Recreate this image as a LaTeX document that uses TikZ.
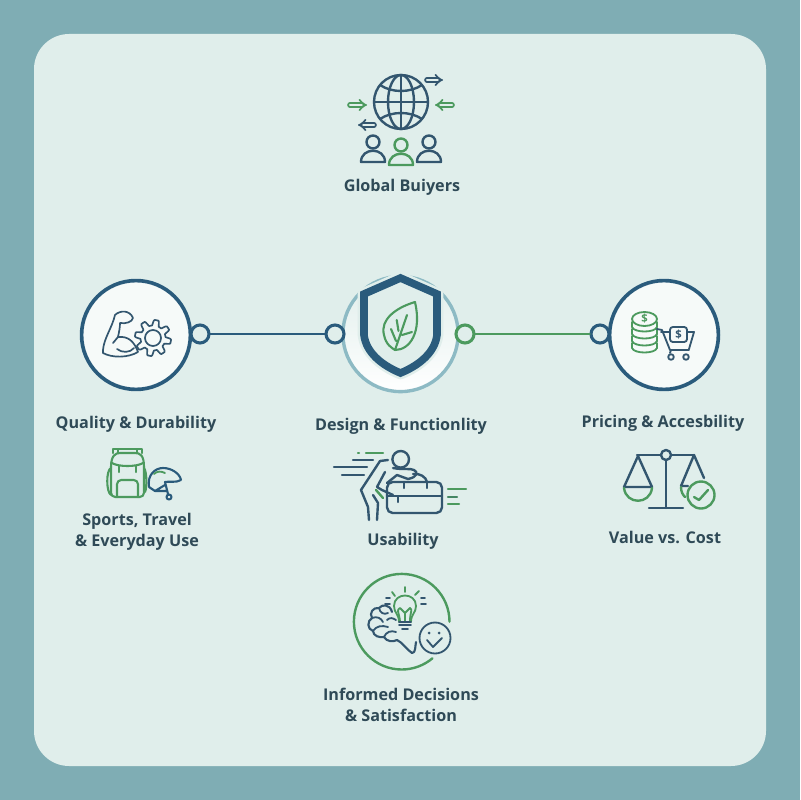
\documentclass[tikz,border=0pt]{standalone}
\usepackage{fontspec}
\setmainfont{Open Sans}
\usetikzlibrary{arrows.meta}
\definecolor{frame}{HTML}{7FADB4}
\definecolor{panel}{HTML}{E0EEEB}
\definecolor{dk}{HTML}{2A5B7C}
\definecolor{nv}{HTML}{33566F}
\definecolor{gn}{HTML}{4C9A5E}
\definecolor{lb}{HTML}{8DBAC4}
\definecolor{tx}{HTML}{2F4A57}
\begin{document}
\begin{tikzpicture}[x=0.025cm,y=-0.025cm,line cap=round,line join=round]
\tikzstyle{dl}=[draw=nv,line width=1.7pt]
\tikzstyle{gl}=[draw=gn,line width=1.7pt]
\tikzstyle{da}=[nv,line width=1.25pt,double=panel,double distance=1.5pt,-{Implies}]
\tikzstyle{ga}=[gn,line width=1.25pt,double=panel,double distance=1.5pt,-{Implies}]
\tikzstyle{bub}=[circle,draw=dk,fill=white!70!panel,line width=2.6pt,minimum size=2.72cm,inner sep=0pt]
\tikzstyle{rng}=[circle,fill=panel,line width=2.2pt,minimum size=0.45cm,inner sep=0pt]
\tikzstyle{lbl}=[text=tx,font=\bfseries\fontsize{11.5}{14.7}\selectfont,align=center,inner sep=0pt]
\tikzstyle{dol}=[inner sep=0pt,font=\bfseries\fontsize{8}{8}\selectfont]
% background
\fill[frame] (0,0) rectangle (800,800);
\useasboundingbox (0,0) rectangle (800,800);
\fill[panel,rounded corners=25pt] (34,34) rectangle (766,766);
% buyers
\draw[dl] (401,102) circle[radius=27];
\draw[dl] (401,102) ellipse[x radius=13,y radius=27];
\draw[dl] (401,75) -- (401,129) (374,102) -- (428,102);
\draw[dl] (380,85) .. controls (392,93) and (410,93) .. (422,85);
\draw[dl] (380,119) .. controls (392,111) and (410,111) .. (422,119);
\draw[da] (427,80) -- (443,80);
\draw[ga] (350,105) -- (367,105);
\draw[ga] (452,105) -- (435,105);
\draw[da] (374,125) -- (358,125);
\foreach \px/\py/\st in {373/142/dl,429/142/dl,401/145/gl} {
  \draw[\st] (\px,\py) circle[radius=6.5];
  \draw[\st] (\px-12,\py+20) .. controls (\px-12,\py+5) and (\px+12,\py+5) .. (\px+12,\py+20) -- cycle;
}
\node[lbl] (buyers) at (402,187) {Global Buiyers};
% big circles
\node[bub] (quality) at (136,335) {};
\node[bub] (pricing) at (664,335) {};
\node[circle,draw=lb,top color=panel,bottom color=white,line width=2.4pt,minimum size=2.88cm,inner sep=0pt] (design) at (400.5,334) {};
% shield
\draw[panel,line width=9pt] (400.5,278) -- (437,294) -- (437,335) .. controls (435,352) and (420,365) .. (400.5,373) .. controls (381,365) and (366,352) .. (364,335) -- (364,294) -- cycle;
\draw[dk,fill=panel,line width=5.4pt,line join=miter] (400.5,278) -- (437,294) -- (437,335) .. controls (435,352) and (420,365) .. (400.5,373) .. controls (381,365) and (366,352) .. (364,335) -- (364,294) -- cycle;
\draw[gl,line width=1.5pt] (415,302) .. controls (395,308) and (380,320) .. (384,335) .. controls (386,345) and (392,348) .. (395,350) .. controls (410,350) and (422,332) .. (415,302) -- cycle;
\draw[gl,line width=1.5pt] (395,350) -- (407,315) (398.5,331) -- (396.7,320) (402,335) -- (412,332) (396,341) -- (391,329);
% rings and wires
\node[rng,draw=dk] (ringa) at (200,334) {};
\node[rng,draw=dk] (ringb) at (335,334) {};
\node[rng,draw=gn] (ringc) at (465,334) {};
\node[rng,draw=dk] (ringd) at (600,334) {};
\draw[dk,line width=2pt] (ringa) -- (ringb);
\draw[gn,line width=2pt] (ringc) -- (ringd);
% muscle and gear
\draw[dl,line width=1.2pt] (103,350) .. controls (104,338) and (112,328) .. (115,315) .. controls (120,310) and (130,310) .. (133,318) .. controls (132,322) and (126,324) .. (120,323) .. controls (120,328) and (119,332) .. (118,337) .. controls (128,336) and (134,341) .. (138,352) .. controls (128,358) and (112,358) .. (103,353) -- cycle;
\draw[dl,line width=1.2pt] (117,349) .. controls (122,353) and (130,353) .. (134,348);
\draw[dl,line width=1.2pt] (113,343) -- (118,337);
\draw[dl,line width=1.2pt,fill=white!70!panel] plot[domain=0:360,samples=145] ({153+(15.3+2.8*max(-1,min(1,2*sin(8*\x))))*cos(\x)},{338+(15.3+2.8*max(-1,min(1,2*sin(8*\x))))*sin(\x)}) -- cycle;
\draw[dl,line width=1.2pt] (153,338) circle[radius=8];
% coins and cart
\foreach \cy in {348,341,334,327} {
  \draw[gl,line width=1.3pt,fill=white!70!panel] (632,\cy-5) -- (632,\cy) .. controls (634,\cy+6) and (655,\cy+6) .. (657,\cy) -- (657,\cy-5);
}
\draw[gl,line width=1.3pt,fill=white!70!panel] (644.5,319) ellipse[x radius=12.5,y radius=7];
\node[dol,text=gn] (coin) at (644.5,319) {\$};
\draw[dl,line width=1.3pt] (657,329) -- (662,330) -- (670,350) -- (689,350) (661,332) -- (694,332) -- (689,349) (671,350) -- (670,353);
\draw[dl,line width=1.3pt] (671,357) circle[radius=2.8] (686,357) circle[radius=2.8];
\draw[dl,line width=1.3pt,fill=white!70!panel,rounded corners=2pt] (670,327) rectangle (687,342);
\node[dol,text=nv] (cart) at (678.5,334.5) {\$};
\node[lbl] (qualitytxt) at (136,424) {Quality \& Durability};
\node[lbl] (designtxt) at (401,426) {Design \& Functionlity};
\node[lbl] (pricingtxt) at (663,423) {Pricing \& Accesbility};
% backpack and helmet
\draw[gl,line width=1.5pt,rounded corners=3pt] (111,467) -- (111,497) -- (144,497) -- (144,467);
\draw[gl,line width=1.5pt] (111,467) .. controls (111,455) and (116,453) .. (120,453) -- (135,453) .. controls (140,453) and (144,455) .. (144,467);
\draw[gl,line width=1.5pt] (113,453) -- (113,449) -- (118,449) -- (118,453) (137,453) -- (137,449) -- (142,449) -- (142,453) (118,449) -- (137,449);
\draw[gl,line width=1.5pt] (112,463) .. controls (118,467) and (137,467) .. (143,463);
\draw[gl,line width=1.5pt] (119,466) -- (119,472) (136,466) -- (136,472);
\draw[gl,line width=1.5pt,rounded corners=3pt] (117,497) -- (117,480) -- (138,480) -- (138,497);
\draw[gl,line width=1.5pt] (111,468) .. controls (106,470) and (106,492) .. (111,495) (144,468) .. controls (147,472) and (147,488) .. (145,492);
\draw[dl,line width=1.5pt,draw=dk] (149,487) .. controls (147,475) and (155,468) .. (163,468) .. controls (172,468) and (180,474) .. (181,480) .. controls (176,483) and (170,481) .. (165,482) -- (168,494) (149,487) -- (155,491) -- (165,485) (155,491) -- (167,491);
\draw[dk,line width=1.5pt] (169,497) circle[radius=2.5];
\draw[gl,line width=1.3pt] (154,474) .. controls (157,471) and (161,471) .. (165,473);
\node[lbl] (sportstxt) at (137,531.5) {Sports, Travel\\\& Everyday Use};
% usability
\draw[dl] (400.7,459.3) circle[radius=8.3];
\draw[gl] (358,452.7) -- (359,452.7) (366,452.7) -- (383,452.7);
\draw[dl] (353,460) -- (373,460) (334,467) -- (367,467) (342,475) -- (364,475);
\draw[dl] (388,460) -- (380,461) -- (361,490) -- (368,507) -- (369,520);
\draw[dl] (373,495) -- (378,503) -- (377,520);
\draw[gl] (376,490) -- (383,498);
\draw[dl] (385,472) -- (377,487) -- (382,490) -- (393,495);
\draw[dl] (393,468) .. controls (403,470) and (410,468) .. (414,470) .. controls (418,472) and (418,477) .. (408,479) -- (397,475) -- (387,483);
\draw[dl,rounded corners=4pt] (387,482) rectangle (442,513);
\draw[dl] (387,496) -- (442,496);
\draw[dl] (404,482) -- (404,488) (427,482) -- (427,488) (398,497) -- (398,502);
\draw[dl] (413,474) .. controls (420,473) and (426,477) .. (427,482);
\draw[gl] (448,489) -- (466,489) (448,504) -- (459,504);
\draw[gl,draw=gn!70!nv] (448,497) -- (457,497);
\node[lbl] (usabilitytxt) at (403,541) {Usability};
% scales
\draw[dl] (637,455) -- (661,455) (671,455) -- (694,455) (666,460) -- (666,508) (649,508) -- (683,508);
\draw[dl] (666,455) circle[radius=5];
\draw[dl] (624,487) -- (638,456) -- (652,487) -- cycle;
\draw[gl] (624,488) .. controls (626,505) and (650,505) .. (652,488);
\draw[dl] (681,486) -- (694,455) -- (704,478) (681,486) -- (688,486);
\draw[gl] (681,487) .. controls (681,492) and (683,495) .. (685,497);
\draw[gl,fill=panel] (701,495) circle[radius=13.5];
\draw[gl] (694,497) -- (699,500) -- (708,490);
\node[lbl] (valuetxt) at (665,537) {Value vs. Cost};
% decisions
\draw[gl] (449.5,621.7) arc[start angle=0,end angle=-310,radius=47.8];
\draw[gl,line width=1.3pt] (392,592) -- (395,596) (405,587) -- (405,592) (419,591) -- (415,595);
\draw[gl,line width=1.3pt] (400,621) .. controls (399,612) and (396,610) .. (400,608) -- (405,613) -- (410,608) .. controls (413,610) and (410,612) .. (410,621) (405,613) -- (405,621);
\draw[gl,line width=1.3pt] (399,622) .. controls (399,614) and (394,613) .. (394,606) .. controls (394,592) and (416,592) .. (416,606) .. controls (416,613) and (411,614) .. (411,622);
\draw[dl,line width=1.3pt] (399,622) -- (411,622) (399,625) -- (411,625) (402,629) -- (408,629);
\draw[dl,line width=1.3pt] (385,604) -- (390,604) (386,598) -- (390,598) (421,604) -- (426,604) (421,598) -- (425,598);
\draw[dl,line width=1.5pt] (392,612) .. controls (390,604) and (382,604) .. (379,608) .. controls (373,607) and (369,613) .. (372,618) .. controls (367,621) and (367,629) .. (373,631) .. controls (373,636) and (380,638) .. (384,637) .. controls (387,642) and (393,642) .. (397,640) .. controls (402,642) and (407,650) .. (412,653) .. controls (416,653) and (415,646) .. (416,642);
\draw[dl,line width=1.3pt] (379,608) .. controls (380,613) and (384,615) .. (388,613) (372,618) .. controls (377,616) and (381,618) .. (383,622) (373,631) .. controls (376,626) and (382,625) .. (388,627) (384,637) .. controls (386,632) and (391,630) .. (396,632) (387,620) .. controls (390,617) and (393,618) .. (396,620);
\draw[dl,line width=1.3pt,fill=panel] (435,638) circle[radius=15.5];
\fill[nv] (429,633) circle[radius=1.5] (439,633) circle[radius=1.5];
\draw[dl,line width=1.3pt] (427,640) -- (433,647) -- (442,638);
\node[lbl] (decisiontxt) at (401,705) {Informed Decisions\\\& Satisfaction};
\end{tikzpicture}
\end{document}
